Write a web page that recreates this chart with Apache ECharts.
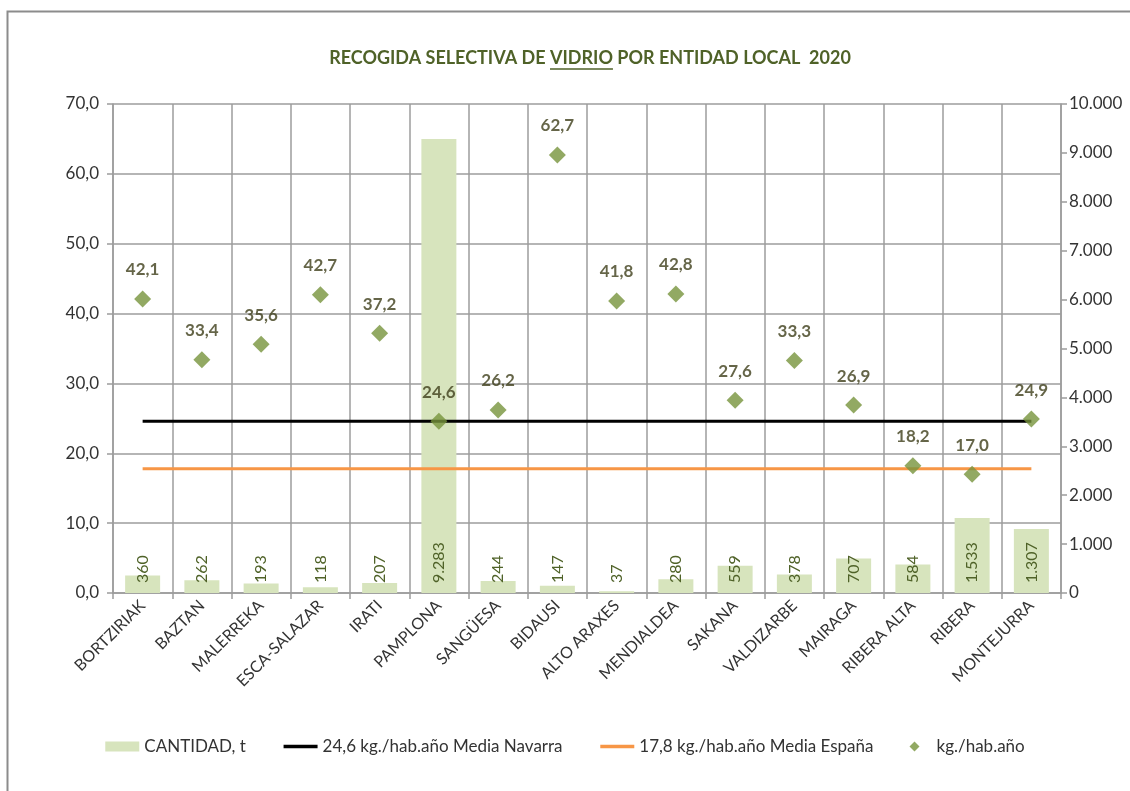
<!DOCTYPE html>
<html>
<head>
<meta charset="utf-8">
<script src="https://cdn.jsdelivr.net/npm/echarts@6/dist/echarts.min.js"></script>
<style>
html,body{margin:0;padding:0;background:#fff;}
#chart{width:1130px;height:791px;}
</style>
</head>
<body>
<div id="chart"></div>
<script>
// ---- DATA ----
var categories = ['BORTZIRIAK','BAZTAN','MALERREKA','ESCA-SALAZAR','IRATI','PAMPLONA','SANGÜESA','BIDAUSI','ALTO ARAXES','MENDIALDEA','SAKANA','VALDIZARBE','MAIRAGA','RIBERA ALTA','RIBERA','MONTEJURRA'];
var cantidad = [360, 262, 193, 118, 207, 9283, 244, 147, 37, 280, 559, 378, 707, 584, 1533, 1307];
var kgHabAno = [42.1, 33.4, 35.6, 42.7, 37.2, 24.6, 26.2, 62.7, 41.8, 42.8, 27.6, 33.3, 26.9, 18.2, 17.0, 24.9];
var mediaNavarra = [24.6, 24.6, 24.6, 24.6, 24.6, 24.6, 24.6, 24.6, 24.6, 24.6, 24.6, 24.6, 24.6, 24.6, 24.6, 24.6];
var mediaEspana = [17.8, 17.8, 17.8, 17.8, 17.8, 17.8, 17.8, 17.8, 17.8, 17.8, 17.8, 17.8, 17.8, 17.8, 17.8, 17.8];
var seriesNames = ['CANTIDAD, t', '24,6 kg./hab.año Media Navarra', '17,8 kg./hab.año Media España', 'kg./hab.año'];
var titleParts = ['RECOGIDA SELECTIVA DE ', 'VIDRIO', ' POR ENTIDAD LOCAL  2020'];

var FONT = 'Lato, "Liberation Sans", sans-serif';
var TXT = '#333333';
var GRID = '#9C9C9C';
var OLIVE = '#4F6228';

function fmtDec(v){ return v.toFixed(1).replace('.', ','); }
function fmtThousands(v){ return String(Math.round(v)).replace(/\B(?=(\d{3})+(?!\d))/g, '.'); }

// measure title pieces with ECharts' own text measurement
var titleSize = 18;
var titleFont = 'bold ' + titleSize + 'px ' + FONT;
function tw(s){ return new echarts.graphic.Text({ style: { text: s, font: titleFont } }).getBoundingRect().width; }
var w0 = tw(titleParts[0]), w1 = tw(titleParts[1]), w2 = tw(titleParts[2]);
var titleCx = 590, titleCy = 58;
var x0 = titleCx - (w0 + w1 + w2) / 2;
function titleText(s, x){
  return { type: 'text', silent: true, x: x, y: titleCy,
    style: { text: s, font: titleFont, fill: OLIVE, textAlign: 'left', textVerticalAlign: 'middle' } };
}

var chart = echarts.init(document.getElementById('chart'));
chart.setOption({
  animation: false,
  backgroundColor: '#fff',
  textStyle: { fontFamily: FONT },
  graphic: [
    { type: 'rect', silent: true, shape: { x: 7.5, y: 11.5, width: 1300, height: 1000 },
      style: { fill: null, stroke: '#8C8C8C', lineWidth: 2 } },
    titleText(titleParts[0], x0),
    titleText(titleParts[1], x0 + w0),
    titleText(titleParts[2], x0 + w0 + w1),
    { type: 'line', silent: true, shape: { x1: x0 + w0, y1: titleCy + 11, x2: x0 + w0 + w1, y2: titleCy + 11 },
      style: { stroke: OLIVE, lineWidth: 1.5 } }
  ],
  legend: {
    top: 733, left: 'center',
    itemGap: 36, itemWidth: 34, itemHeight: 10,
    symbolKeepAspect: true,
    textStyle: { fontFamily: FONT, fontSize: 17, color: TXT },
    data: [
      { name: seriesNames[0], icon: 'rect' },
      { name: seriesNames[1], itemStyle: { opacity: 0 }, lineStyle: { width: 3.5, color: '#000' } },
      { name: seriesNames[2], itemStyle: { opacity: 0 }, lineStyle: { width: 3.5, color: '#F79646' } },
      { name: seriesNames[3], icon: 'path://M5,0 L10,5 L5,10 L0,5 Z' }
    ]
  },
  grid: { left: 113, right: 69, top: 104, bottom: 198 },
  xAxis: {
    type: 'category', data: categories,
    axisLine: { lineStyle: { color: GRID, width: 1.5 } },
    axisTick: { show: true, length: 6, alignWithLabel: false, lineStyle: { color: GRID, width: 1.5 } },
    splitLine: { show: true, lineStyle: { color: GRID, width: 1.5 } },
    axisLabel: { rotate: 45, fontSize: 16, color: TXT, margin: 10, fontFamily: FONT, interval: 0 }
  },
  yAxis: [
    { type: 'value', min: 0, max: 70, interval: 10,
      axisLine: { show: true, lineStyle: { color: GRID, width: 1.5 } },
      axisTick: { show: true, length: 6, lineStyle: { color: GRID, width: 1.5 } },
      splitLine: { show: true, lineStyle: { color: GRID, width: 1.5 } },
      axisLabel: { fontSize: 17, color: TXT, margin: 14, fontFamily: FONT, formatter: function(v){ return fmtDec(v); } } },
    { type: 'value', min: 0, max: 10000, interval: 1000, position: 'right',
      axisLine: { show: true, lineStyle: { color: GRID, width: 1.5 } },
      axisTick: { show: true, length: 6, lineStyle: { color: GRID, width: 1.5 } },
      splitLine: { show: false },
      axisLabel: { fontSize: 17, color: TXT, margin: 8, fontFamily: FONT, formatter: function(v){ return fmtThousands(v); } } }
  ],
  series: [
    { name: seriesNames[0], type: 'bar', yAxisIndex: 1, data: cantidad,
      barWidth: 35, itemStyle: { color: '#D7E4BD' },
      label: { show: true, position: 'insideBottom', rotate: 90, align: 'left', verticalAlign: 'middle',
        distance: 10, fontSize: 16, color: OLIVE, fontFamily: FONT,
        formatter: function(p){ return fmtThousands(p.value); } },
      z: 1 },
    { name: seriesNames[1], type: 'line', yAxisIndex: 0, data: mediaNavarra,
      symbol: 'circle', showSymbol: false, lineStyle: { color: '#000', width: 3 }, itemStyle: { color: '#000' }, z: 3 },
    { name: seriesNames[2], type: 'line', yAxisIndex: 0, data: mediaEspana,
      symbol: 'circle', showSymbol: false, lineStyle: { color: '#F79646', width: 3 }, itemStyle: { color: '#F79646' }, z: 3 },
    { name: seriesNames[3], type: 'scatter', yAxisIndex: 0, data: kgHabAno,
      symbol: 'diamond', symbolSize: 17, itemStyle: { color: '#77933C' },
      label: { show: true, position: 'top', distance: 12, fontSize: 17, fontWeight: 'bold', color: '#3F3F1A', fontFamily: FONT,
        formatter: function(p){ return fmtDec(p.value); } },
      z: 5 }
  ]
});
</script>
</body>
</html>
